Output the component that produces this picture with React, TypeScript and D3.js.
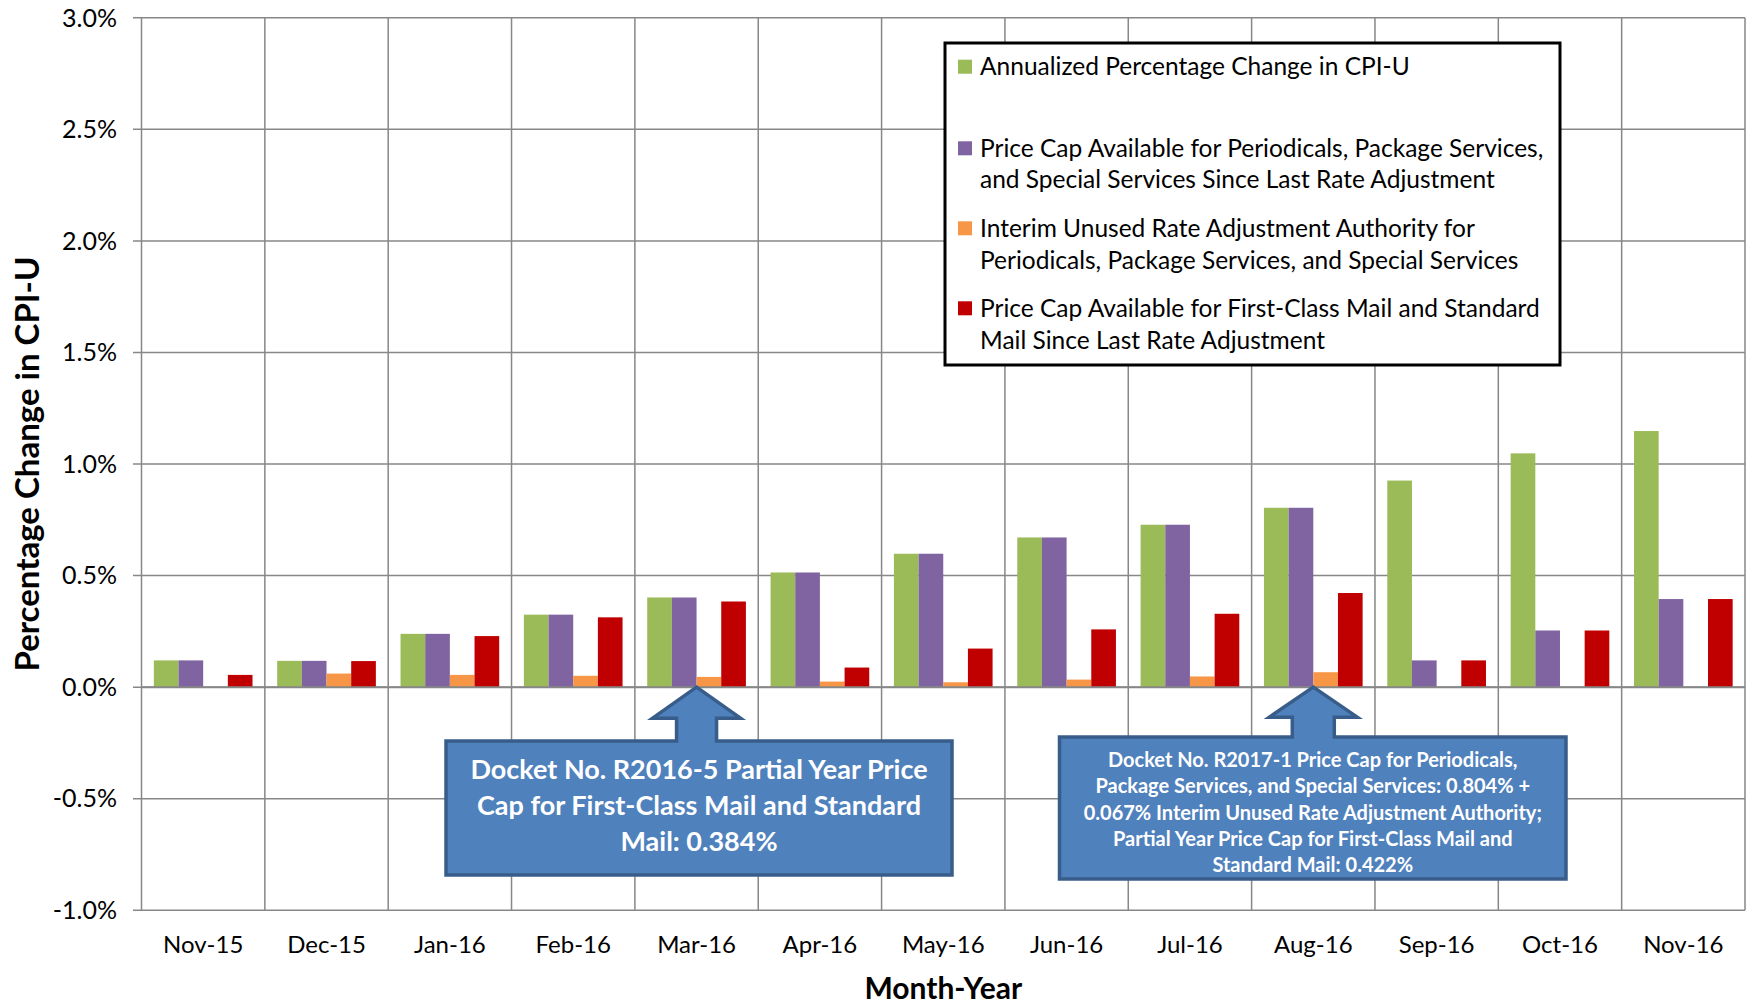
import React from "react";
import * as d3 from "d3";

// data (percent)
const months = [
  "Nov-15", "Dec-15", "Jan-16", "Feb-16", "Mar-16", "Apr-16", "May-16",
  "Jun-16", "Jul-16", "Aug-16", "Sep-16", "Oct-16", "Nov-16",
];
const cpiChange = [0.12, 0.118, 0.239, 0.325, 0.402, 0.514, 0.598, 0.671, 0.728, 0.804, 0.926, 1.048, 1.148];
const capPeriodicals = [0.12, 0.118, 0.239, 0.325, 0.402, 0.514, 0.598, 0.671, 0.728, 0.804, 0.12, 0.254, 0.395];
const interimUnused = [0, 0.061, 0.055, 0.051, 0.046, 0.025, 0.022, 0.034, 0.048, 0.067, 0, 0, 0];
const capFirstClass = [0.055, 0.117, 0.229, 0.313, 0.384, 0.088, 0.173, 0.259, 0.329, 0.422, 0.12, 0.254, 0.395];

const seriesKeys = ["cpi", "periodicals", "interim", "firstClass"];
const seriesValues = [cpiChange, capPeriodicals, interimUnused, capFirstClass];
const seriesColors = ["#9BBB59", "#8064A2", "#F79646", "#C00000"];
const legendLines = [
  ["Annualized Percentage Change in CPI-U"],
  ["Price Cap Available for Periodicals, Package Services,", "and Special Services Since Last Rate Adjustment"],
  ["Interim Unused Rate Adjustment Authority for", "Periodicals, Package Services, and Special Services"],
  ["Price Cap Available for First-Class Mail and Standard", "Mail Since Last Rate Adjustment"],
];
const yTicks = [-1, -0.5, 0, 0.5, 1, 1.5, 2, 2.5, 3];

const note1Month = "Mar-16";
const note1Lines = [
  "Docket No. R2016-5 Partial Year Price",
  "Cap for First-Class Mail and Standard",
  "Mail: 0.384%",
];
const note2Month = "Aug-16";
const note2Lines = [
  "Docket No. R2017-1 Price Cap for Periodicals,",
  "Package Services, and Special Services: 0.804% +",
  "0.067% Interim Unused Rate Adjustment Authority;",
  "Partial Year Price Cap for First-Class Mail and",
  "Standard Mail: 0.422%",
];

const FONT = "Lato, 'Open Sans', sans-serif";

function Callout({ box, tip, headHalf, headH, shaftHalf, lines, fontSize, lineGap, firstY }) {
  const [x0, y0, x1, y1] = box;
  const [tx, ty] = tip;
  const d = [
    [x0, y0], [tx - shaftHalf, y0], [tx - shaftHalf, ty + headH], [tx - headHalf, ty + headH],
    [tx, ty], [tx + headHalf, ty + headH], [tx + shaftHalf, ty + headH], [tx + shaftHalf, y0],
    [x1, y0], [x1, y1], [x0, y1],
  ];
  const cx = (x0 + x1) / 2;
  return (
    <g>
      <path
        d={"M" + d.map((p) => p.join(",")).join("L") + "Z"}
        fill="#4F81BD"
        stroke="#385D8A"
        strokeWidth={3.5}
        strokeLinejoin="miter"
      />
      {lines.map((t, i) => (
        <text
          key={i}
          x={cx}
          y={firstY + i * lineGap}
          dy="0.35em"
          textAnchor="middle"
          fill="#fff"
          fontWeight="bold"
          fontSize={fontSize}
          fontFamily={FONT}
        >
          {t}
        </text>
      ))}
    </g>
  );
}

export default function App() {
  const width = 1747,
    height = 1003,
    left = 141.5,
    right = 1745,
    top = 17.8,
    bottom = 910.3;

  const x = d3.scaleBand().domain(months).range([left, right]).padding(0);
  const bw = x.bandwidth();
  const xs = d3.scaleBand().domain(seriesKeys).range([bw * 0.1, bw * 0.9]).padding(0);
  const y = d3.scaleLinear().domain([-1, 3]).range([bottom, top]);
  const fmt = (t) => t.toFixed(1) + "%";

  const legendRowY = [[66.7], [148.3, 179.3], [228.3, 260.7], [308.3, 340]];

  return (
    <div style={{ position: "absolute", left: 0, top: 0 }}>
      <svg width={width} height={height} style={{ display: "block", background: "#fff" }}>
        {/* horizontal gridlines + y ticks */}
        {yTicks.map((t) => (
          <g key={t}>
            <line x1={left - 8.5} x2={right} y1={y(t)} y2={y(t)} stroke="#878787" strokeWidth={1.5} />
            <text
              x={117}
              y={y(t)}
              dy="0.35em"
              textAnchor="end"
              fontSize={25}
              fontFamily={FONT}
              fill="#000"
            >
              {fmt(t)}
            </text>
          </g>
        ))}
        {/* vertical gridlines at category boundaries */}
        {months.concat(["end"]).map((m, i) => (
          <line
            key={m}
            x1={left + i * bw}
            x2={left + i * bw}
            y1={top}
            y2={bottom}
            stroke="#878787"
            strokeWidth={1.5}
          />
        ))}
        {/* bars */}
        {months.map((m, i) => (
          <g key={m} transform={`translate(${x(m)},0)`}>
            {seriesKeys.map((k, j) => {
              const v = seriesValues[j][i];
              if (!v) return null;
              return (
                <rect
                  key={k}
                  x={xs(k)}
                  y={y(v)}
                  width={xs.bandwidth()}
                  height={y(0) - y(v)}
                  fill={seriesColors[j]}
                />
              );
            })}
          </g>
        ))}
        <line x1={left} x2={right} y1={y(0)} y2={y(0)} stroke="#878787" strokeWidth={2} />
        {/* x labels */}
        {months.map((m) => (
          <text
            key={m}
            x={x(m) + bw / 2}
            y={945}
            dy="0.35em"
            textAnchor="middle"
            fontSize={24}
            fontFamily={FONT}
            fill="#000"
          >
            {m}
          </text>
        ))}
        <text
          x={(left + right) / 2}
          y={988}
          dy="0.35em"
          textAnchor="middle"
          fontSize={30}
          fontWeight="bold"
          fontFamily={FONT}
        >
          Month-Year
        </text>
        <text
          transform={`translate(27,${(top + bottom) / 2}) rotate(-90)`}
          dy="0.35em"
          textAnchor="middle"
          fontSize={33}
          fontWeight="bold"
          fontFamily={FONT}
        >
          Percentage Change in CPI-U
        </text>

        {/* legend */}
        <rect x={945} y={43} width={615} height={322} fill="#fff" stroke="#000" strokeWidth={3} />
        {legendLines.map((ls, i) => (
          <g key={i}>
            <rect x={958} y={legendRowY[i][0] - 7} width={14} height={14} fill={seriesColors[i]} />
            {ls.map((t, j) => (
              <text
                key={j}
                x={980}
                y={legendRowY[i][j]}
                dy="0.35em"
                fontSize={24.5}
                fontFamily={FONT}
                fill="#000"
              >
                {t}
              </text>
            ))}
          </g>
        ))}

        {/* annotations */}
        <Callout
          box={[446, 741, 952, 875]}
          tip={[x(note1Month) + bw / 2, y(0)]}
          headHalf={44}
          headH={31}
          shaftHalf={20}
          lines={note1Lines}
          fontSize={27}
          lineGap={36}
          firstY={770}
        />
        <Callout
          box={[1059.5, 737, 1566, 879]}
          tip={[x(note2Month) + bw / 2, y(0)]}
          headHalf={44}
          headH={30}
          shaftHalf={21}
          lines={note2Lines}
          fontSize={20}
          lineGap={26.3}
          firstY={760}
        />
      </svg>
    </div>
  );
}
